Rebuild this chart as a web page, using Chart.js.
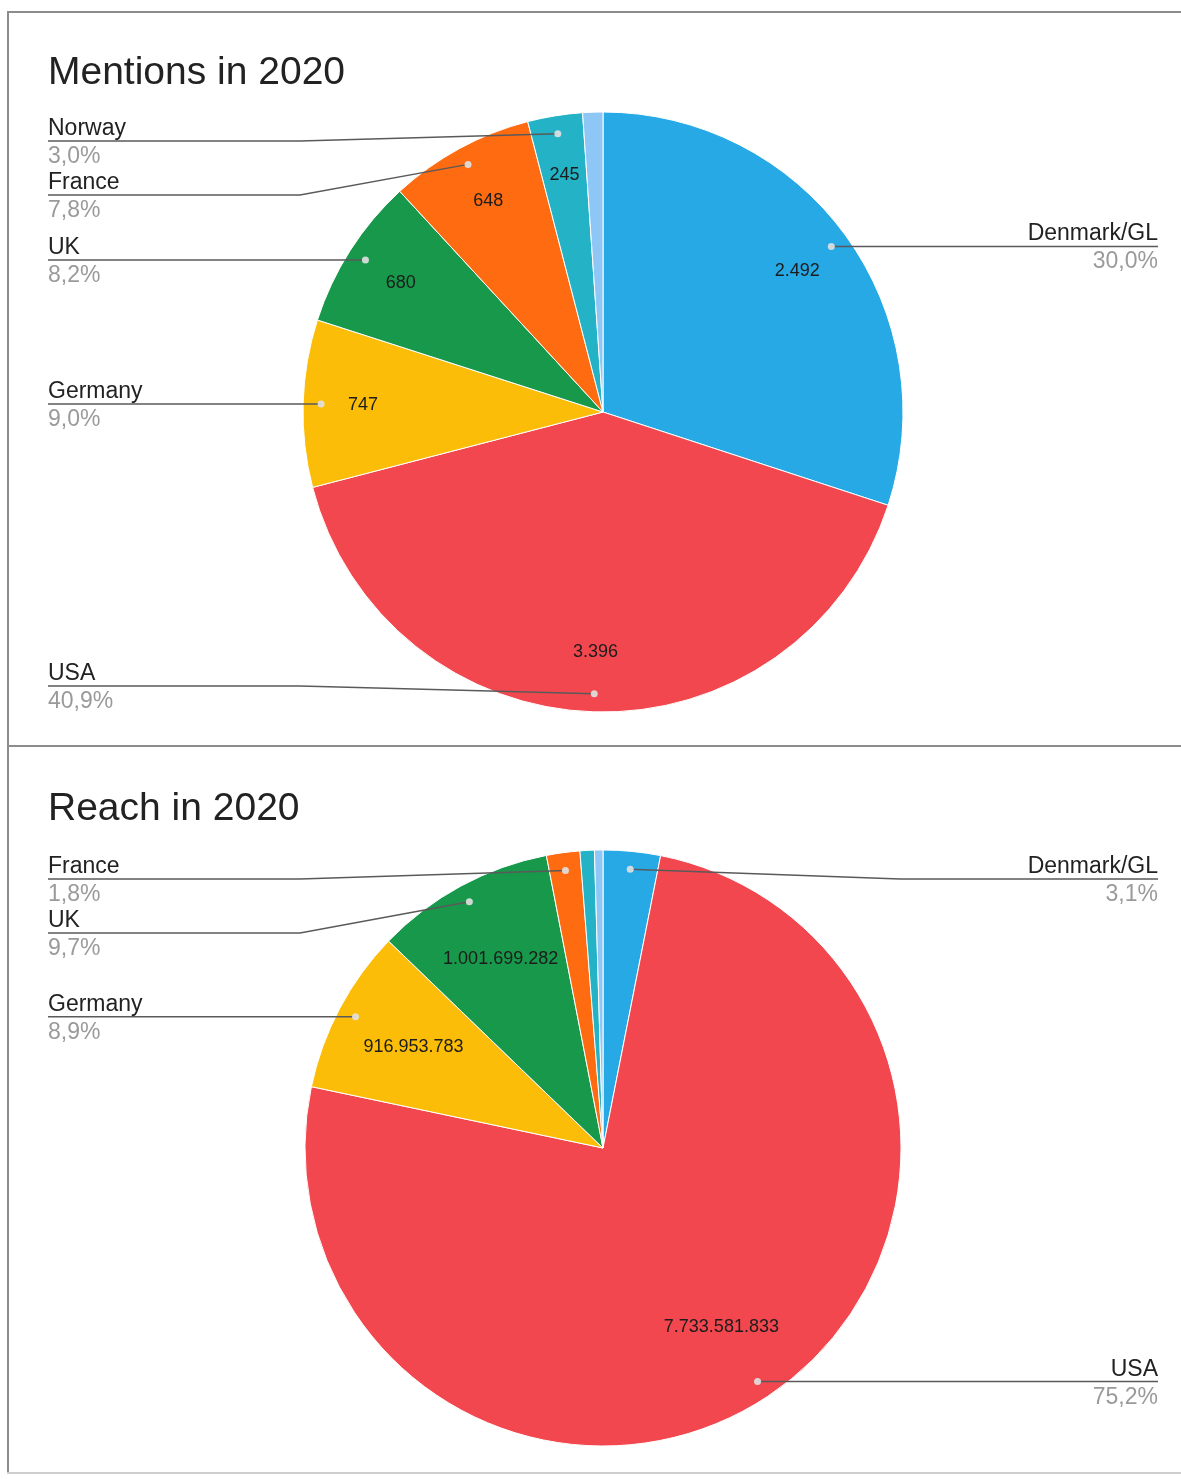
<!DOCTYPE html>
<html>
<head>
<meta charset="utf-8">
<script src="https://cdn.jsdelivr.net/npm/chart.js@4.4.1/dist/chart.umd.min.js"></script>
<style>
  html, body { margin: 0; padding: 0; background: #fff; }
  body { width: 1181px; height: 1479px; position: relative; overflow: hidden; }
  .frame { position: absolute; background: #8c8c8c; }
  canvas { position: absolute; left: 9px; }
  #mentionChart { top: 13px; }
  #reachChart { top: 748px; }
</style>
</head>
<body>
<div class="frame" style="left:7px;top:11px;width:1174px;height:2px"></div>
<div class="frame" style="left:7px;top:11px;width:2px;height:1463px"></div>
<div class="frame" style="left:7px;top:745px;width:1174px;height:2px"></div>
<div class="frame" style="left:7px;top:1472px;width:1174px;height:2px;background:#cfcfcf"></div>

<canvas id="mentionChart" width="1172" height="732"></canvas>
<canvas id="reachChart" width="1172" height="724"></canvas>

<script>
/* ========= DATA ========= */

const countries = ["Denmark/GL", "USA", "Germany", "UK", "France", "Norway", "Other"];

const mentionValues = [2492, 3396, 747, 680, 648, 245, 90];

const reachValues = [318500000, 7733581833, 916953783, 1001699282, 186000000, 80000000, 47000000];

const sliceColors = ["#27a9e6", "#f2474e", "#fbbd08", "#17984a", "#fe6b10", "#23b2c6", "#8ec6f5"];


/* ========= HELPERS ========= */

const FONT = "'Liberation Sans', Arial, sans-serif";

function formatNumber(v) {
  return String(v).replace(/\B(?=(\d{3})+(?!\d))/g, ".");
}

function formatPercent(p) {
  return p.toFixed(1).replace(".", ",") + "%";
}

// spread labels on one side so they don't overlap
function placeLabels(items, top, bottom, gap) {
  items.sort((a, b) => a.dotY - b.dotY);
  let prev = -Infinity;
  items.forEach(it => {
    const y = Math.min(Math.max(it.dotY, top), bottom);
    it.lineY = Math.max(y, prev + gap);
    prev = it.lineY;
  });
  for (let i = items.length - 1; i >= 0; i--) {
    const lim = i === items.length - 1 ? bottom : items[i + 1].lineY - gap;
    if (items[i].lineY > lim) items[i].lineY = lim;
  }
}


/* ========= LABEL PLUGIN ========= */

const pieLabels = {
  id: "pieLabels",
  afterDatasetsDraw(chart, args, opts) {
    const ctx = chart.ctx;
    const meta = chart.getDatasetMeta(0);
    const values = chart.data.datasets[0].data;
    const names = chart.data.labels;
    const total = values.reduce((a, b) => a + b, 0);
    const left = [], right = [];
    let cx = 0, cy = 0, r = 0;

    ctx.save();

    // title
    ctx.font = "39px " + FONT;
    ctx.fillStyle = "#222";
    ctx.textAlign = "left";
    ctx.textBaseline = "alphabetic";
    ctx.fillText(opts.title, opts.textLeft, opts.titleY);

    // values inside slices
    ctx.font = "18px " + FONT;
    ctx.fillStyle = "#1c1c1c";
    ctx.textAlign = "center";
    ctx.textBaseline = "middle";

    meta.data.forEach((arc, i) => {
      const p = arc.getProps(["x", "y", "startAngle", "endAngle", "outerRadius"], true);
      cx = p.x; cy = p.y; r = p.outerRadius;
      const mid = (p.startAngle + p.endAngle) / 2;
      const span = p.endAngle - p.startAngle;
      const txt = formatNumber(values[i]);
      const rl = r * opts.valueRadius;
      const chord = span > Math.PI ? Infinity : 2 * rl * Math.sin(span / 2);
      if (chord > ctx.measureText(txt).width + 6) {
        ctx.fillText(txt, cx + Math.cos(mid) * rl, cy + Math.sin(mid) * rl);
      }

      const pct = values[i] / total * 100;
      if (pct >= opts.minPercent) {
        const item = {
          name: names[i],
          pct: pct,
          dotX: cx + Math.cos(mid) * r * 0.94,
          dotY: cy + Math.sin(mid) * r * 0.94
        };
        (Math.cos(mid) >= 0 ? right : left).push(item);
      }
    });

    placeLabels(left, cy - r + 29, cy + r - 26, 54);
    placeLabels(right, cy - r + 29, cy + r - 26, 54);

    // leader lines + outside labels
    ctx.strokeStyle = "#5a5a5a";
    ctx.lineWidth = 1.5;

    const drawItem = (it, isLeft) => {
      const textX = isLeft ? opts.textLeft : opts.textRight;
      const bend = isLeft ? Math.min(opts.bendLeft, it.dotX) : Math.max(opts.bendRight, it.dotX);

      ctx.beginPath();
      ctx.moveTo(textX, it.lineY);
      ctx.lineTo(bend, it.lineY);
      ctx.lineTo(it.dotX, it.dotY);
      ctx.stroke();

      ctx.beginPath();
      ctx.arc(it.dotX, it.dotY, 3.5, 0, Math.PI * 2);
      ctx.fillStyle = "rgba(225,225,225,0.9)";
      ctx.fill();

      ctx.textAlign = isLeft ? "left" : "right";
      ctx.textBaseline = "alphabetic";
      ctx.font = "23px " + FONT;
      ctx.fillStyle = "#222";
      ctx.fillText(it.name, textX, it.lineY - 6);
      ctx.fillStyle = "#9a9a9a";
      ctx.fillText(formatPercent(it.pct), textX, it.lineY + 22);
    };

    left.forEach(it => drawItem(it, true));
    right.forEach(it => drawItem(it, false));

    ctx.restore();
  }
};


/* ========= CHARTS ========= */

function makePie(canvasId, values, radius, padding, labelOpts) {
  return new Chart(document.getElementById(canvasId), {
    type: "pie",
    data: {
      labels: countries,
      datasets: [{
        data: values,
        backgroundColor: sliceColors,
        borderColor: "#ffffff",
        borderWidth: 1,
        hoverOffset: 0,
        radius: radius
      }]
    },
    options: {
      responsive: false,
      animation: false,
      devicePixelRatio: 1,
      layout: { padding: padding },
      plugins: {
        legend: { display: false },
        tooltip: { enabled: false },
        pieLabels: labelOpts
      }
    },
    plugins: [pieLabels]
  });
}

makePie("mentionChart", mentionValues, 300,
  { left: 294, right: 278, top: 99, bottom: 33 },
  {
    title: "Mentions in 2020",
    titleY: 71,
    textLeft: 39,
    textRight: 1149,
    bendLeft: 291,
    bendRight: 891,
    valueRadius: 0.8,
    minPercent: 1.5
  });

makePie("reachChart", reachValues, 298,
  { left: 296, right: 280, top: 102, bottom: 26 },
  {
    title: "Reach in 2020",
    titleY: 72,
    textLeft: 39,
    textRight: 1149,
    bendLeft: 291,
    bendRight: 891,
    valueRadius: 0.72,
    minPercent: 1.5
  });
</script>
</body>
</html>
